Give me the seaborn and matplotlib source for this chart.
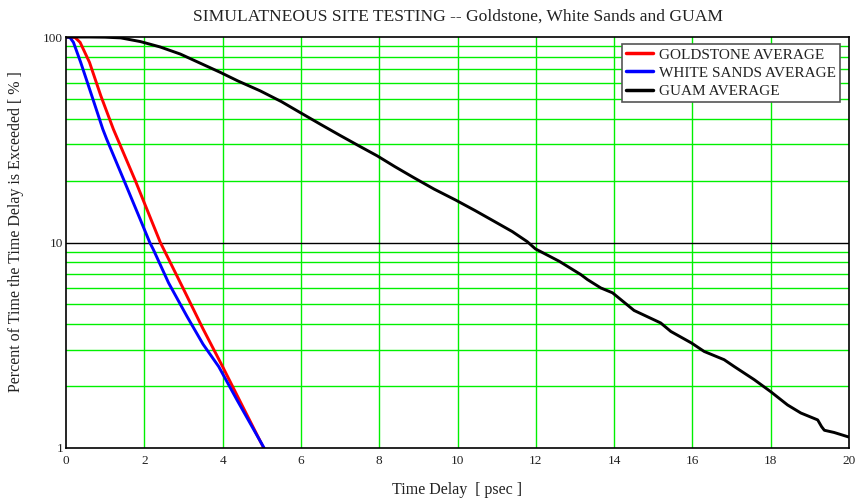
import matplotlib
matplotlib.use("Agg")
import matplotlib.pyplot as plt
import seaborn as sns
import pandas as pd
from matplotlib.ticker import FixedLocator, NullFormatter, FixedFormatter

# --- data ---
gold_x = [0, 0.23, 0.36, 0.6, 0.89, 1.21, 1.78, 2.41, 3.0, 3.5, 4.0, 4.5, 5.05]
gold_y = [100, 99.5, 94.2, 75.3, 51.7, 35.6, 19.8, 10.0, 5.94, 3.8, 2.49, 1.61, 1.0]

ws_x = [0, 0.1, 0.19, 0.375, 0.66, 0.94, 1.04, 1.47, 1.9, 2.14, 2.23, 2.62, 3.09, 3.5, 3.9, 4.37, 5.06]
ws_y = [100, 99.5, 94.2, 75.3, 51.7, 35.6, 31.8, 20.3, 12.9, 10.0, 9.25, 6.36, 4.37, 3.2, 2.49, 1.71, 1.0]

guam_x = [0, 0.6, 1.0, 1.4, 1.9, 2.4, 2.92, 3.4, 3.94, 4.4, 4.96, 5.5, 5.98, 6.5, 7.0, 7.5,
          7.95, 8.4, 8.88, 9.4, 9.95, 10.45, 10.93, 11.4, 11.78, 11.99, 12.6, 13.15, 13.32,
          13.66, 13.96, 14.51, 15.19, 15.45, 15.98, 16.3, 16.81, 17.07, 17.58, 18.0, 18.43,
          18.77, 19.2, 19.3, 19.37, 19.62, 20.0]
guam_y = [100, 100, 99.8, 99.0, 95.0, 89.5, 82.6, 75.0, 67.3, 61.0, 54.7, 48.5, 42.9, 37.6,
          33.2, 29.4, 26.4, 23.4, 20.7, 18.2, 16.1, 14.3, 12.7, 11.3, 10.1, 9.31, 8.1, 6.98,
          6.6, 6.01, 5.69, 4.67, 4.06, 3.69, 3.24, 2.95, 2.69, 2.49, 2.15, 1.88, 1.62, 1.48,
          1.37, 1.27, 1.22, 1.19, 1.13]

series_names = ["GOLDSTONE AVERAGE", "WHITE SANDS AVERAGE", "GUAM AVERAGE"]
series_colors = ["#ff0000", "#0000ff", "#000000"]
x_ticks = [0, 2, 4, 6, 8, 10, 12, 14, 16, 18, 20]
y_ticks = [1, 10, 100]
y_tick_labels = ["1", "10", "100"]

df = pd.concat([
    pd.DataFrame({"x": gold_x, "y": gold_y, "s": series_names[0]}),
    pd.DataFrame({"x": ws_x, "y": ws_y, "s": series_names[1]}),
    pd.DataFrame({"x": guam_x, "y": guam_y, "s": series_names[2]}),
], ignore_index=True)

sns.set_style("white")
plt.rcParams["font.family"] = ["Liberation Serif", "DejaVu Serif"]

W, H = 857, 501
L, R, T, B = 66, 849, 37, 448
fig = plt.figure(figsize=(W / 100, H / 100), dpi=100)
ax = fig.add_axes([L / W, 1 - B / H, (R - L) / W, (B - T) / H])

ax.set_yscale("log")
ax.set_xlim(0, 20)
ax.set_ylim(1, 100)

# grid
for xv in x_ticks[1:-1]:
    ax.axvline(xv, color="#00f000", lw=1.0, zorder=1)
for dec in [1, 10]:
    for m in range(2, 10):
        ax.axhline(dec * m, color="#00f000", lw=1.0, zorder=1)
ax.axhline(10, color="black", lw=1.0, zorder=1.5)

sns.lineplot(data=df, x="x", y="y", hue="s", palette=series_colors,
             hue_order=series_names, sort=False, estimator=None,
             lw=2.1, ax=ax, zorder=3)

ax.xaxis.set_major_locator(FixedLocator(x_ticks))
ax.set_xticklabels([str(v) for v in x_ticks])
ax.yaxis.set_major_locator(FixedLocator(y_ticks))
ax.yaxis.set_major_formatter(FixedFormatter(y_tick_labels))
ax.yaxis.set_minor_formatter(NullFormatter())
ax.tick_params(axis="both", which="both", length=0, labelsize=9.5, colors="#222222")
ax.tick_params(axis="x", pad=5)
ax.tick_params(axis="y", pad=2)

for sp in ax.spines.values():
    sp.set_color("black")
    sp.set_linewidth(1.2)
    sp.set_zorder(4)

ax.set_xlabel("")
ax.set_ylabel("")
fig.text((L + R) / 2 / W, 1 - 490 / H, "Time Delay  [ psec ]",
         ha="center", va="center", fontsize=11.5, color="#222222")
fig.text(16 / W, 1 - 232 / H, "Percent of Time the Time Delay is Exceeded [ % ]",
         ha="center", va="center", rotation=90, fontsize=11.5, color="#222222")
fig.text((L + R) / 2 / W, 1 - 17 / H,
         "SIMULATNEOUS SITE TESTING -- Goldstone, White Sands and GUAM",
         ha="center", va="center", fontsize=12.6, color="#222222")

leg = ax.legend(loc="upper right", bbox_to_anchor=((840 - L) / (R - L), (B - 44) / (B - T)),
                fontsize=11, frameon=True, fancybox=False, framealpha=1,
                edgecolor="#555555", handlelength=1.8, handletextpad=0.4,
                borderpad=0.25, labelspacing=0.3, borderaxespad=0)
leg.get_frame().set_linewidth(1.2)
for line in leg.get_lines():
    line.set_linewidth(2.5)
for t in leg.get_texts():
    t.set_color("#222222")

fig.savefig("out.png", dpi=100)
